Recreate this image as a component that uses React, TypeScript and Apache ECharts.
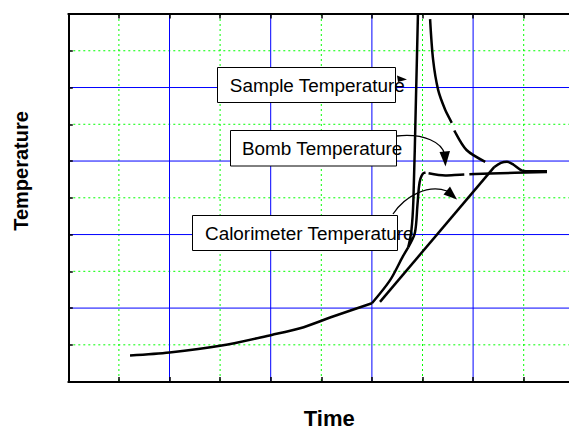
import React, { useEffect, useRef } from "react";
import * as echarts from "echarts";

// Data (axis units 0..10 on both axes; no labels shown)
const gridTicks = [0, 1, 2, 3, 4, 5, 6, 7, 8, 9, 10];

const calLowX = [1.22, 2.0, 3.03, 4.02, 4.58, 5.23, 6.0];
const calLowY = [0.71, 0.79, 0.98, 1.27, 1.45, 1.77, 2.13];

const riseX = [6.0, 6.36, 6.61, 6.72];
const riseY = [2.13, 2.76, 3.4, 3.66];

const sampleRiseX = [6.72, 6.78, 6.82, 6.87, 6.91];
const sampleRiseY = [3.66, 4.1, 4.94, 7.66, 10.0];

const sampleFallX = [7.15, 7.21, 7.31, 7.45, 7.58, 7.64, 7.87, 8.24];
const sampleFallY = [9.86, 8.75, 7.93, 7.39, 7.03, 6.8, 6.3, 5.98];

const bombRiseX = [6.72, 6.85, 6.9, 6.93, 6.96, 7.01, 7.06];
const bombRiseY = [3.66, 4.05, 4.8, 5.3, 5.52, 5.66, 5.69];

const bombFlatX = [7.12, 7.45, 7.74, 8.34, 9.46];
const bombFlatY = [5.67, 5.61, 5.63, 5.66, 5.7];

const calLineX = [6.16, 8.42];
const calLineY = [2.17, 5.84];

const calBumpX = [8.42, 8.55, 8.67, 8.8, 8.97, 9.15, 9.46];
const calBumpY = [5.84, 5.95, 5.98, 5.9, 5.74, 5.72, 5.72];

const xTitle = "Time";
const yTitle = "Temperature";
const labelSample = "Sample Temperature";
const labelBomb = "Bomb Temperature";
const labelCal = "Calorimeter Temperature";

function pairs(xs: number[], ys: number[]) {
  return xs.map((x, i) => [x, ys[i]]);
}

export default function App() {
  const ref = useRef<HTMLDivElement>(null);
  useEffect(() => {
    const chart = echarts.init(ref.current!, null, { renderer: "svg" });
    const font = "Liberation Sans";
    const frameAxis = (pos: string) => ({
      type: "value",
      position: pos,
      min: 0,
      max: 10,
      interval: 1,
      axisLine: { show: true, onZero: false, lineStyle: { color: "#000", width: 2 } },
      axisTick: { show: true, inside: true, length: 4.5, lineStyle: { color: "#000", width: 1.5 } },
      axisLabel: { show: false },
      splitLine: { show: false },
      minorSplitLine: { show: false },
      splitArea: { show: false },
      z: 10,
    });
    const lineSeries = (xs: number[], ys: number[], smooth: number | boolean, dash?: any) => ({
      type: "line",
      data: pairs(xs, ys),
      showSymbol: false,
      symbol: "none",
      smooth,
      lineStyle: { color: "#000", width: 2.5, type: dash || "solid" },
      z: 5,
    });
    const boxes = [
      { x: 217.5, y: 67.5, w: 178, h: 35, text: labelSample, tx: 229.8 },
      { x: 230.5, y: 130.5, w: 166, h: 35.5, text: labelBomb, tx: 242 },
      { x: 192.5, y: 215.5, w: 205, h: 35, text: labelCal, tx: 205 },
    ];
    const overlay: any[] = [];
    boxes.forEach((b) => {
      overlay.push({
        type: "rect",
        z: 100,
        shape: { x: b.x, y: b.y, width: b.w, height: b.h },
        style: { fill: "#fff", stroke: "#000", lineWidth: 1 },
      });
      overlay.push({
        type: "text",
        z: 101,
        x: b.tx,
        y: b.y + b.h / 2,
        style: {
          text: b.text,
          fontSize: 18.9,
          fontFamily: font,
          fill: "#000",
          align: "left",
          verticalAlign: "middle",
        },
      });
    });
    overlay.push({
      type: "polygon",
      z: 102,
      shape: { points: [[397, 75.5], [398, 82], [407, 79.5]] },
      style: { fill: "#000" },
    });
    overlay.push({
      type: "bezierCurve",
      z: 102,
      shape: { x1: 396.7, y1: 136, cpx1: 425, cpy1: 133, cpx2: 442, cpy2: 143, x2: 444.5, y2: 154 },
      style: { stroke: "#000", lineWidth: 1.3, fill: null },
    });
    overlay.push({
      type: "polygon",
      z: 102,
      shape: { points: [[439.5, 152], [450, 151], [445.5, 166.5]] },
      style: { fill: "#000" },
    });
    overlay.push({
      type: "bezierCurve",
      z: 102,
      shape: { x1: 393, y1: 214, cpx1: 405, cpy1: 196, cpx2: 428, cpy2: 184, x2: 447, y2: 191 },
      style: { stroke: "#000", lineWidth: 1.3, fill: null },
    });
    overlay.push({
      type: "polygon",
      z: 102,
      shape: { points: [[443.5, 194.5], [450, 186.5], [457, 199.5]] },
      style: { fill: "#000" },
    });
    overlay.push({
      type: "text",
      x: 20.8,
      y: 171,
      rotation: Math.PI / 2,
      style: {
        text: yTitle,
        fontSize: 20,
        fontWeight: "bold",
        fontFamily: font,
        fill: "#000",
        align: "center",
        verticalAlign: "middle",
      },
    });
    overlay.push({
      type: "text",
      x: 329.2,
      y: 418.3,
      style: {
        text: xTitle,
        fontSize: 22,
        fontWeight: "bold",
        fontFamily: font,
        fill: "#000",
        align: "center",
        verticalAlign: "middle",
      },
    });

    const baseOption: any = {
      animation: false,
      backgroundColor: "#fff",
      grid: { left: 68.3, top: 14, right: 15.7, bottom: 48.4, containLabel: false },
      xAxis: [frameAxis("bottom"), frameAxis("top")],
      yAxis: [frameAxis("left"), frameAxis("right")],
      series: [
        lineSeries(calLowX, calLowY, 0.3),
        lineSeries(riseX, riseY, 0.3),
        lineSeries(sampleRiseX, sampleRiseY, 0.3),
        lineSeries(sampleFallX, sampleFallY, 0.3, [107, 8]),
        lineSeries(bombRiseX, bombRiseY, 0.3),
        lineSeries(bombFlatX, bombFlatY, 0.3, [36, 5, 300, 5]),
        lineSeries(calLineX, calLineY, false),
        lineSeries(calBumpX, calBumpY, 0.3),
      ],
    };
    chart.setOption(baseOption);

    // grid lines placed from the axis scale
    const gridLines: any[] = [];
    const p0 = chart.convertToPixel({ gridIndex: 0 }, [0, 0]) as number[];
    const p1 = chart.convertToPixel({ gridIndex: 0 }, [10, 10]) as number[];
    gridTicks.forEach((k) => {
      if (k === 0 || k === 10) return;
      const major = k % 2 === 0;
      const style = major
        ? { stroke: "#0000ff", lineWidth: 1 }
        : { stroke: "#00ff00", lineWidth: 1, lineDash: [2, 3] };
      const px = (chart.convertToPixel({ gridIndex: 0 }, [k, 0]) as number[])[0];
      const py = (chart.convertToPixel({ gridIndex: 0 }, [0, k]) as number[])[1];
      gridLines.push({
        type: "line",
        z: major ? 1 : 0,
        silent: true,
        shape: { x1: px, y1: p1[1], x2: px, y2: p0[1] },
        style,
      });
      gridLines.push({
        type: "line",
        z: major ? 1 : 0,
        silent: true,
        shape: { x1: p0[0], y1: py, x2: p1[0], y2: py },
        style,
      });
    });
    chart.setOption({
      graphic: [
        { type: "group", z: -10, zlevel: 0, children: gridLines },
        { type: "group", z: 100, children: overlay },
      ],
    });
    return () => chart.dispose();
  }, []);
  return (
    <div
      style={{
        position: "fixed",
        left: 0,
        top: 0,
        width: 569,
        height: 430,
        overflow: "hidden",
        background: "#fff",
      }}
    >
      <div ref={ref} style={{ width: 590, height: 430 }} />
    </div>
  );
}
